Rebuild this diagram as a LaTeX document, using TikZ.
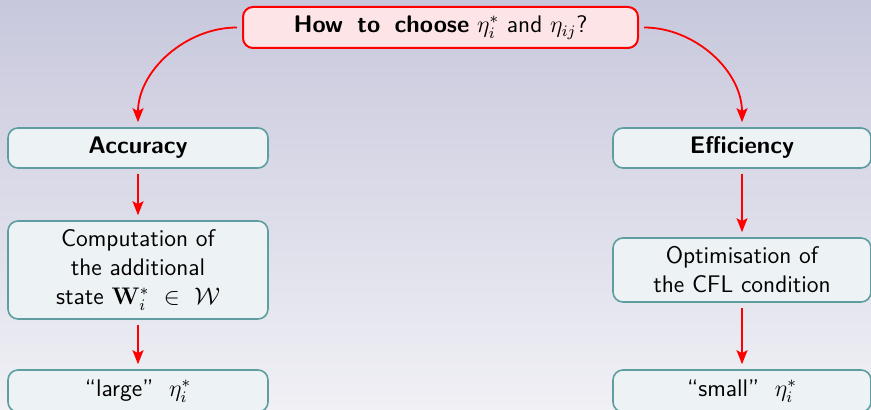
\documentclass[tikz,border=0pt]{standalone}
\usepackage{amsmath}
\usetikzlibrary{arrows.meta}
\definecolor{bgtop}{RGB}{200,200,221}
\definecolor{bgbot}{RGB}{240,240,245}
\definecolor{boxfill}{RGB}{237,242,245}
\definecolor{boxline}{RGB}{95,158,160}
\definecolor{topfill}{RGB}{253,229,231}
\begin{document}
\begin{tikzpicture}[x=0.5pt,y=-0.5pt, font=\sffamily\fontsize{12}{14.5}\selectfont,
  box/.style={draw=boxline, fill=boxfill, line width=0.8pt, rounded corners=5pt, minimum width=130pt, align=center, inner sep=0pt},
  rbox/.style={box, minimum width=129pt},
  topbox/.style={draw=red, fill=topfill, line width=1pt, rounded corners=5pt, minimum width=197.5pt, minimum height=20.5pt, inner sep=0pt},
  arr/.style={draw=red, line width=0.9pt, -{Stealth[length=7pt,width=5.5pt,inset=1.5pt]}, shorten <=2.5pt, shorten >=2.5pt}]
\clip (0,0) rectangle (871,410);
\shade[top color=bgtop, bottom color=bgbot] (0,0) rectangle (871,410);
\node[topbox] (q) at (440.5,27.5) {\textbf{How\hspace{0.6em}to\hspace{0.6em}choose} $\eta_i^*$ and $\eta_{ij}$?};
\node[box, minimum height=20pt] (acc) at (138,148) {\textbf{Accuracy}};
\node[box, minimum height=49pt] (comp) at (138,270) {Computation of\\ the additional\\ state $\mathbf{W}_i^*\ \in\ \mathcal{W}$};
\node[box, minimum height=21pt] (large) at (138,391) {``large''\ \ $\eta_i^*$};
\node[rbox, minimum height=20pt] (eff) at (742,148) {\textbf{Efficiency}};
\node[rbox, minimum height=32pt] (opt) at (742,270) {Optimisation of\\ the CFL condition};
\node[rbox, minimum height=21pt] (small) at (742,391) {``small''\ \ $\eta_i^*$};
\draw[arr] (q.west) to[out=180,in=90] (acc.north);
\draw[arr] (q.east) to[out=0,in=90] (eff.north);
\draw[arr] (acc) -- (comp);
\draw[arr] (comp) -- (large);
\draw[arr] (eff) -- (opt);
\draw[arr] (opt) -- (small);
\end{tikzpicture}
\end{document}
